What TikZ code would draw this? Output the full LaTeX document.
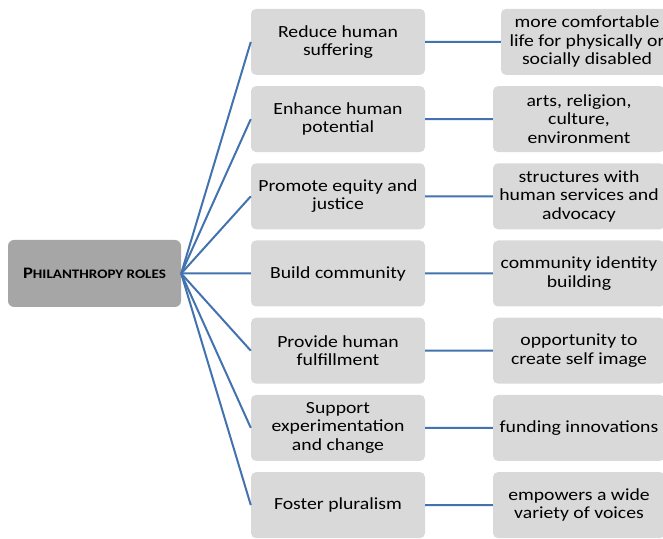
\documentclass[tikz,border=0pt]{standalone}
\usepackage{fontspec}
\setmainfont{Carlito}[FakeStretch=1.16]
\usepackage{tikz}
\usetikzlibrary{trees,positioning}
\definecolor{rootgray}{HTML}{A6A6A6}
\definecolor{boxgray}{HTML}{D9D9D9}
\definecolor{linkblue}{HTML}{4373AE}
\tikzstyle{root node}=[rectangle,rounded corners=6pt,fill=rootgray,minimum width=173pt,minimum height=67pt,align=center]
\tikzstyle{role node}=[rectangle,rounded corners=5pt,fill=boxgray,minimum width=174pt,minimum height=66pt,inner sep=2pt,align=center,font=\fontsize{17}{18.5}\selectfont]
\tikzstyle{aim node}=[role node,minimum width=172pt]

\begin{document}
\begin{tikzpicture}[x=1pt,y=1pt,grow'=right,level distance=243.5pt,
    level 1/.style={sibling distance=77.2pt},
    level 2/.style={level distance=241pt},
    edge from parent/.style={draw=linkblue,line width=2pt},
    edge from parent path={(\tikzparentnode.east) -- (\tikzchildnode.west)}]
		\useasboundingbox (0,0) rectangle (663,538);

		\node(root)[root node] at (94.5,264.5)
		    {\bfseries{\fontsize{16}{17}\selectfont P}{\fontsize{13}{15}\selectfont HILANTHROPY ROLES}}
		    child { node(role1)[role node]{Reduce human\\suffering}
		    	child { node(aim1)[aim node,xshift=8pt]{more comfortable\\life for physically or\\socially disabled} } }
		    child { node(role2)[role node]{Enhance human\\potential}
		    	child { node(aim2)[aim node]{arts, religion,\\culture,\\environment} } }
		    child { node(role3)[role node]{Promote equity and\\justice}
		    	child { node(aim3)[aim node]{structures with\\human services and\\advocacy} } }
		    child { node(role4)[role node]{Build community}
		    	child { node(aim4)[aim node]{community identity\\building} } }
		    child { node(role5)[role node]{Provide human\\fulfillment}
		    	child { node(aim5)[aim node]{opportunity to\\create self image} } }
		    child { node(role6)[role node]{Support\\experimentation\\and change}
		    	child { node(aim6)[aim node]{funding innovations} } }
		    child { node(role7)[role node]{Foster pluralism}
		    	child { node(aim7)[aim node]{empowers a wide\\variety of voices} } };

		\end{tikzpicture}
\end{document}
